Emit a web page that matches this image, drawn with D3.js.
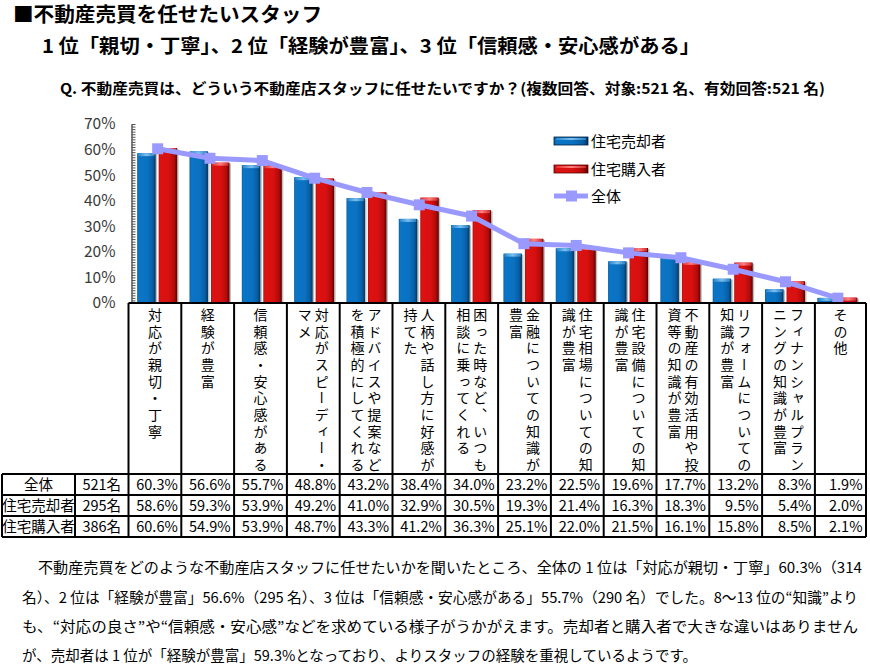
<!DOCTYPE html>
<html><head><meta charset="utf-8">
<script src="https://cdn.jsdelivr.net/npm/d3@7"></script>
<style>
html,body{margin:0;padding:0;background:#fff;}
text{font-family:"Noto Sans CJK JP","Noto Sans CJK SC",sans-serif;}
</style></head>
<body>
<svg id="chart" width="870" height="668"></svg>
<script>
const categories = [
  "対応が親切・丁寧","経験が豊富","信頼感・安心感がある","対応がスピーディー・マメ",
  "アドバイスや提案などを積極的にしてくれる","人柄や話し方に好感が持てた",
  "困った時など、いつも相談に乗ってくれる","金融についての知識が豊富",
  "住宅相場についての知識が豊富","住宅設備についての知識が豊富",
  "不動産の有効活用や投資等の知識が豊富","リフォームについての知識が豊富",
  "フィナンシャルプランニングの知識が豊富","その他"
];
const overall = [60.3,56.6,55.7,48.8,43.2,38.4,34.0,23.2,22.5,19.6,17.7,13.2,8.3,1.9];
const sellers = [58.6,59.3,53.9,49.2,41.0,32.9,30.5,19.3,21.4,16.3,18.3,9.5,5.4,2.0];
const buyers  = [60.6,54.9,53.9,48.7,43.3,41.2,36.3,25.1,22.0,21.5,16.1,15.8,8.5,2.1];
const seriesNames = ["住宅売却者","住宅購入者","全体"];
const rowLabels = ["全体","住宅売却者","住宅購入者"];
const rowCounts = ["521名","295名","386名"];
const yTicks = [0,10,20,30,40,50,60,70];
const titleLines = ["■不動産売買を任せたいスタッフ","1 位「親切・丁寧」、2 位「経験が豊富」、3 位「信頼感・安心感がある」"];
const question = "Q.  不動産売買は、どういう不動産店スタッフに任せたいですか？(複数回答、対象:521 名、有効回答:521 名)";
const paragraph = [
  "不動産売買をどのような不動産店スタッフに任せたいかを聞いたところ、全体の 1 位は「対応が親切・丁寧」60.3%（314",
  "名）、2 位は「経験が豊富」56.6%（295 名）、3 位は「信頼感・安心感がある」55.7%（290 名）でした。8～13 位の“知識”より",
  "も、“対応の良さ”や“信頼感・安心感”などを求めている様子がうかがえます。売却者と購入者で大きな違いはありません",
  "が、売却者は 1 位が「経験が豊富」59.3%となっており、よりスタッフの経験を重視しているようです。"
];

const svg = d3.select("#chart");
const defs = svg.append("defs");
function grad(id, stops){
  const g = defs.append("linearGradient").attr("id",id).attr("x1","0").attr("x2","1").attr("y1","0").attr("y2","0");
  stops.forEach(s=>g.append("stop").attr("offset",s[0]).attr("stop-color",s[1]));
}
grad("gBlue",[[0,"#0a5fa3"],[0.08,"#0b74c4"],[0.55,"#0b72c2"],[0.85,"#075da3"],[1,"#02345e"]]);
grad("gRed",[[0,"#b50c0c"],[0.08,"#dc1212"],[0.55,"#d81010"],[0.85,"#b00a0a"],[1,"#5a0000"]]);
grad("gBlueCap",[[0,"#2a86cc"],[0.5,"#7cc0f0"],[1,"#2a7ec0"]]);
grad("gRedCap",[[0,"#e23030"],[0.5,"#ff8080"],[1,"#d02a2a"]]);

// titles
svg.append("text").attr("x",13).attr("y",22).attr("font-size",20).attr("font-weight","bold")
  .attr("textLength",309).attr("lengthAdjust","spacingAndGlyphs").text(titleLines[0]);
svg.append("text").attr("x",42).attr("y",53).attr("font-size",19).attr("font-weight","bold")
  .attr("textLength",658).attr("lengthAdjust","spacingAndGlyphs").text(titleLines[1]);
svg.append("text").attr("x",60).attr("y",94).attr("font-size",14.5).attr("font-weight","bold")
  .attr("textLength",765).attr("lengthAdjust","spacingAndGlyphs").text(question);

// scales
const y = d3.scaleLinear().domain([0,70]).range([303,124]);
const x = d3.scaleBand().domain(d3.range(categories.length)).range([131.5,864]);
const cx = i => x(i) + x.bandwidth()/2;
const tableCols = d3.scaleLinear().domain([0,13]).range([128.5,814.9]);
const colEdge = i => i >= categories.length ? 866 : tableCols(i);

// axis
const gMinor = svg.append("g").attr("transform","translate(131.5,0)")
  .call(d3.axisRight(y).tickValues(d3.range(0,71,1)).tickSize(4).tickSizeOuter(0).tickFormat(""));
gMinor.selectAll("line").attr("stroke","#555");
gMinor.select(".domain").attr("stroke","#444").attr("stroke-width",1.3);
const gMajor = svg.append("g").attr("transform","translate(131.5,0)")
  .call(d3.axisLeft(y).tickValues(yTicks).tickSize(0).tickPadding(16).tickFormat(d=>d+"%"));
gMajor.select(".domain").remove();
gMajor.selectAll("text").attr("font-family","'Liberation Sans',Arial,sans-serif").attr("font-size",15.5).attr("fill","#3a3a3a");

// bars
function drawBars(vals, x0, x1, fill, cap){
  const g = svg.append("g");
  vals.forEach((v,i)=>{
    const c = cx(i);
    const left = c + x0, w = x1 - x0;
    g.append("rect").attr("x",left+1.5).attr("y",y(v)+1).attr("width",w).attr("height",y(0)-y(v)-1).attr("fill","#000").attr("opacity",0.25);
    g.append("rect").attr("x",left).attr("y",y(v)).attr("width",w).attr("height",y(0)-y(v)).attr("fill",`url(#${fill})`);
    g.append("rect").attr("x",left+1).attr("y",y(v)).attr("width",w-2).attr("height",Math.min(3,y(0)-y(v))).attr("fill",`url(#${cap})`);
  });
}
drawBars(sellers,-20.5,-2,"gBlue","gBlueCap");
drawBars(buyers,1,19.5,"gRed","gRedCap");

// overall line
const line = d3.line().x((d,i)=>cx(i)).y(d=>y(d));
svg.append("path").datum(overall).attr("d",line).attr("fill","none").attr("stroke","#9999ff").attr("stroke-width",5).attr("stroke-linejoin","round");
svg.append("g").selectAll("rect").data(overall).join("rect")
  .attr("x",(d,i)=>cx(i)-5.5).attr("y",d=>y(d)-5.5).attr("width",11).attr("height",11).attr("fill","#9999ff");

// legend
const lg = svg.append("g");
[["gBlue","gBlueCap",141],["gRed","gRedCap",169]].forEach((s,k)=>{
  lg.append("rect").attr("x",554).attr("y",s[2]-4).attr("width",34).attr("height",8).attr("fill",`url(#${s[0]})`).attr("stroke",k?"#600":"#024").attr("stroke-width",0.8);
  lg.append("rect").attr("x",556).attr("y",s[2]-3).attr("width",30).attr("height",2).attr("fill",`url(#${s[1]})`);
  lg.append("text").attr("x",591).attr("y",s[2]+5.5).attr("font-size",15).text(seriesNames[k]);
});
lg.append("line").attr("x1",554).attr("x2",588).attr("y1",196).attr("y2",196).attr("stroke","#9999ff").attr("stroke-width",5);
lg.append("rect").attr("x",566).attr("y",190.5).attr("width",11).attr("height",11).attr("fill","#9999ff");
lg.append("text").attr("x",591).attr("y",201.5).attr("font-size",15).text(seriesNames[2]);

// category header table
const tg = svg.append("g");
const hdrTop = 303, hdrBot = 474, rowH = 21;
categories.forEach((cat,i)=>{
  const l = colEdge(i), r = colEdge(i+1), c = (l+r)/2;
  const chunks = [];
  for(let k=0;k<cat.length;k+=10) chunks.push(cat.slice(k,k+10));
  chunks.forEach((ch,k)=>{
    const xx = c + (chunks.length-1)/2*17 - k*17;
    tg.append("text").attr("x",xx).attr("y",307.5).attr("font-size",14)
      .style("writing-mode","vertical-rl").style("letter-spacing","2.7px").text(ch);
  });
});
// data rows
const rows = [overall, sellers, buyers];
rows.forEach((vals,r)=>{
  const yb = hdrBot + rowH*r + rowH/2 + 5;
  tg.append("text").attr("x",38.5).attr("y",yb).attr("text-anchor","middle").attr("font-size",14.5).text(rowLabels[r]);
  tg.append("text").attr("x",101.75).attr("y",yb).attr("text-anchor","middle").attr("font-size",14.5).text(rowCounts[r]);
  vals.forEach((v,i)=>{
    tg.append("text").attr("x",colEdge(i+1)-3.5).attr("y",yb).attr("text-anchor","end").attr("font-size",14.5).text(v.toFixed(1)+"%");
  });
});
// borders
const bs = {stroke:"#000","stroke-width":2};
function ln(x1,y1,x2,y2){ const e = tg.append("line").attr("x1",x1).attr("y1",y1).attr("x2",x2).attr("y2",y2); Object.entries(bs).forEach(([k,v])=>e.attr(k,v)); }
ln(128.5,hdrTop,866,hdrTop);
for(let i=0;i<=categories.length;i++) ln(colEdge(i),hdrTop,colEdge(i),hdrBot+rowH*3);
for(let r=0;r<=3;r++) ln(2,hdrBot+rowH*r,866,hdrBot+rowH*r);
ln(2,hdrBot,2,hdrBot+rowH*3);
ln(75,hdrBot,75,hdrBot+rowH*3);

// paragraph
const py = [573,603,632,661];
paragraph.forEach((t,k)=>{
  const tx = svg.append("text").attr("x",k===0?38:22).attr("y",py[k]).attr("font-size",14.5).text(t);
  if(k<3) tx.attr("textLength",k===0?824:836).attr("lengthAdjust","spacingAndGlyphs");
});
</script>
</body></html>
